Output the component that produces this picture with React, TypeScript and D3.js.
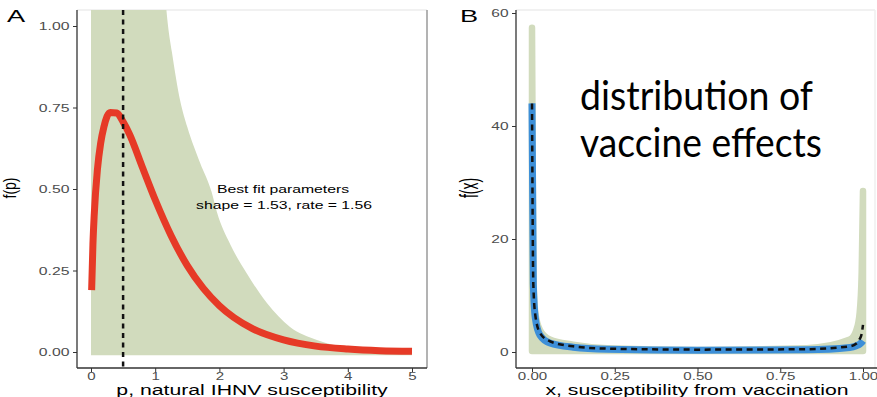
import React, { useEffect, useRef } from 'react';
import * as d3 from 'd3';

// Panel A: fitted density of natural susceptibility
const pValues = [0.01, 0.03, 0.05, 0.1, 0.15, 0.2, 0.3, 0.4, 0.5, 0.6, 0.8, 1.0, 1.25, 1.5, 1.75, 2.0, 2.5, 3.0, 3.5, 4.0, 4.5, 5.0];
const pDensity = [0.19, 0.33, 0.42, 0.56, 0.64, 0.69, 0.735, 0.733, 0.706, 0.668, 0.567, 0.467, 0.356, 0.265, 0.195, 0.142, 0.073, 0.037, 0.018, 0.009, 0.004, 0.002];
const bandP = [0, 0.5, 1.0, 1.15, 1.2, 1.26, 1.39, 1.5, 1.7, 1.88, 1.96, 2.17, 2.43, 2.74, 3.1, 3.52, 4.03, 4.5, 5.0];
const bandUpperA = [4, 2.5, 1.4, 1.1, 1.0, 0.92, 0.77, 0.69, 0.58, 0.49, 0.43, 0.33, 0.24, 0.15, 0.077, 0.037, 0.012, 0.004, 0.0];
const bandLowerA = -0.01;
const meanP = 0.5;
const fitLabel = ['Best fit parameters', 'shape = 1.53, rate = 1.56'];
const xTicksA = [0, 1, 2, 3, 4, 5];
const yTicksA = [0, 0.25, 0.5, 0.75, 1];

// Panel B: distribution of vaccine effects
const xValues = [0, 0.004, 0.01, 0.024, 0.054, 0.124, 0.227, 0.5, 0.83, 0.96, 0.98, 0.99, 0.996, 1.0];
const bandUpperB = [57.4, 14, 7, 3.9, 2.2, 1.3, 0.67, 0.37, 0.67, 2.2, 3.9, 7, 14, 28.5];
const bandLowerB = 0.18;
const fitB = [44, 12, 6, 3.0, 1.6, 0.85, 0.5, 0.33, 0.4, 0.8, 1.1, 1.4, 1.7, 2.0];
const dashedB = [44, 12, 6.5, 3.4, 1.9, 1.0, 0.6, 0.42, 0.5, 1.0, 1.5, 2.3, 3.2, 4.8];
const xTicksB = [0, 0.25, 0.5, 0.75, 1];
const yTicksB = [0, 20, 40, 60];
const overlayLines = ['distribution of', 'vaccine effects'];

const GREEN = '#d1dbbd';
const SX = 1.37;
const FONT = '"Liberation Sans", Arial, sans-serif';

export default function App() {
  const svgRef = useRef<SVGSVGElement>(null);

  useEffect(() => {
    if (!svgRef.current) return;
    const svg = d3.select(svgRef.current);
    svg.selectAll('*').remove();
    const defs = svg.append('defs');

    const panelA = { left: 77, right: 427, top: 10, bottom: 368 };
    const panelB = { left: 516, right: 877, top: 10, bottom: 368 };

    const xA = d3.scaleLinear().domain([0, 5]).range([91, 412]);
    const yA = d3.scaleLinear().domain([0, 1]).range([352, 26]);
    const xB = d3.scaleLinear().domain([0, 1]).range([532, 863]);
    const yB = d3.scaleLinear().domain([0, 60]).range([352, 13]);

    const clip = (id: string, p: typeof panelA) => {
      defs.append('clipPath').attr('id', id)
        .append('rect')
        .attr('x', p.left).attr('y', p.top)
        .attr('width', p.right - p.left).attr('height', p.bottom - p.top);
    };
    clip('clipA', panelA);
    clip('clipB', panelB);

    // light panel frame (top + right)
    const frame = (p: typeof panelA, rightColor: string) => {
      svg.append('line').attr('x1', p.left).attr('x2', p.right).attr('y1', p.top).attr('y2', p.top)
        .attr('stroke', '#ececec').attr('stroke-width', 1.5);
      svg.append('line').attr('x1', p.right).attr('x2', p.right).attr('y1', p.top).attr('y2', p.bottom)
        .attr('stroke', rightColor).attr('stroke-width', 1.5);
    };
    frame(panelA, '#9a9a9a');
    frame({ ...panelB, right: 875 }, '#efefef');

    const axes = (
      p: typeof panelA,
      x: d3.ScaleLinear<number, number>,
      y: d3.ScaleLinear<number, number>,
      xTicks: number[], yTicks: number[],
      xFmt: (d: number) => string, yFmt: (d: number) => string,
      ySize: number, ySx: number
    ) => {
      const gx = svg.append('g').attr('transform', `translate(0,${p.bottom})`)
        .call(d3.axisBottom(x).tickValues(xTicks).tickSize(4).tickPadding(0).tickFormat(xFmt as any));
      gx.select('.domain').remove();
      gx.selectAll('line').attr('stroke', '#333');
      gx.selectAll('text').attr('fill', '#4d4d4d').attr('font-size', 11).attr('font-family', FONT)
        .attr('transform', `scale(${SX},1)`);

      const gy = svg.append('g').attr('transform', `translate(${p.left},0)`)
        .call(d3.axisLeft(y).tickValues(yTicks).tickSize(4).tickPadding(3).tickFormat(yFmt as any));
      gy.select('.domain').remove();
      gy.selectAll('line').attr('stroke', '#333');
      gy.selectAll('text').attr('fill', '#4d4d4d').attr('font-size', ySize).attr('font-family', FONT)
        .attr('x', -7.5 / ySx).attr('transform', `scale(${ySx},1)`);

      svg.append('line').attr('x1', p.left).attr('x2', p.left).attr('y1', p.top).attr('y2', p.bottom)
        .attr('stroke', '#333').attr('stroke-width', 1.3);
      svg.append('line').attr('x1', p.left).attr('x2', p.right).attr('y1', p.bottom).attr('y2', p.bottom)
        .attr('stroke', '#333').attr('stroke-width', 1.3);
    };

    const label = (txt: string, x: number, y: number, size: number, opts: { anchor?: string; sx?: number; rotate?: boolean } = {}) => {
      const sx = opts.sx ?? SX;
      svg.append('text')
        .attr('transform', `translate(${x},${y}) scale(${sx},1)${opts.rotate ? ' rotate(-90)' : ''}`)
        .attr('text-anchor', opts.anchor ?? 'middle')
        .attr('font-family', FONT)
        .attr('font-size', size)
        .attr('fill', '#000')
        .text(txt);
    };

    // ---- Panel A ----
    const gA = svg.append('g').attr('clip-path', 'url(#clipA)');
    const bandA = d3.area<number>()
      .x((_, i) => xA(bandP[i]))
      .y0(() => yA(bandLowerA))
      .y1((d) => yA(d))
      .curve(d3.curveMonotoneX);
    gA.append('path').datum(bandUpperA).attr('d', bandA).attr('fill', GREEN);

    const lineA = d3.line<number>()
      .x((_, i) => xA(pValues[i]))
      .y((d) => yA(d))
      .curve(d3.curveMonotoneX);
    gA.append('path').datum(pDensity).attr('d', lineA)
      .attr('fill', 'none').attr('stroke', '#e63a27').attr('stroke-width', 7).attr('stroke-linejoin', 'round');

    gA.append('line').attr('x1', xA(meanP)).attr('x2', xA(meanP))
      .attr('y1', panelA.top).attr('y2', panelA.bottom)
      .attr('stroke', '#111').attr('stroke-width', 2.5).attr('stroke-dasharray', '5,4.5');

    axes(panelA, xA, yA, xTicksA, yTicksA, d3.format('d'), d3.format('.2f'), 11.5, SX);

    label(fitLabel[0], 283, 193, 11.5);
    label(fitLabel[1], 284, 209, 11.5);
    label('p, natural IHNV susceptibility', 252, 395, 15.5);
    label('f(p)', 16, 188, 14, { rotate: true });
    label('A', 7, 22, 17, { anchor: 'start', sx: 1.6 });

    // ---- Panel B ----
    const gB = svg.append('g').attr('clip-path', 'url(#clipB)');
    const bandB = d3.area<number>()
      .x((_, i) => xB(xValues[i]))
      .y0(() => yB(bandLowerB))
      .y1((d) => yB(d))
      .curve(d3.curveMonotoneX);
    gB.append('path').datum(bandUpperB).attr('d', bandB)
      .attr('fill', GREEN).attr('stroke', GREEN).attr('stroke-width', 6.5).attr('stroke-linejoin', 'round');

    const lineB = (vals: number[]) => d3.line<number>()
      .x((_, i) => xB(xValues[i]))
      .y((d) => yB(d))
      .curve(d3.curveMonotoneX)(vals);
    gB.append('path').attr('d', lineB(fitB))
      .attr('fill', 'none').attr('stroke', '#3d8fd8').attr('stroke-width', 7).attr('stroke-linejoin', 'round');
    gB.append('path').attr('d', lineB(dashedB))
      .attr('fill', 'none').attr('stroke', '#111').attr('stroke-width', 2.5).attr('stroke-dasharray', '6,4.5');

    axes(panelB, xB, yB, xTicksB, yTicksB, d3.format('.2f'), d3.format('d'), 10, 1.55);

    label('x, susceptibility from vaccination', 697, 395, 15.5);
    label('f(x)', 478, 188, 14, { rotate: true, sx: 1.9 });
    label('B', 460, 22, 17, { anchor: 'start', sx: 1.6 });

    overlayLines.forEach((t, i) => {
      svg.append('text')
        .attr('x', 580).attr('y', 110 + i * 47)
        .attr('font-family', 'Lato, "Open Sans", sans-serif')
        .attr('font-size', 40)
        .attr('textLength', i === 0 ? 233 : 242)
        .attr('lengthAdjust', 'spacingAndGlyphs')
        .attr('fill', '#000')
        .text(t);
    });
  }, []);

  return (
    <svg
      ref={svgRef}
      width={877}
      height={397}
      style={{ position: 'absolute', left: 0, top: 0, background: '#fff' }}
    />
  );
}
